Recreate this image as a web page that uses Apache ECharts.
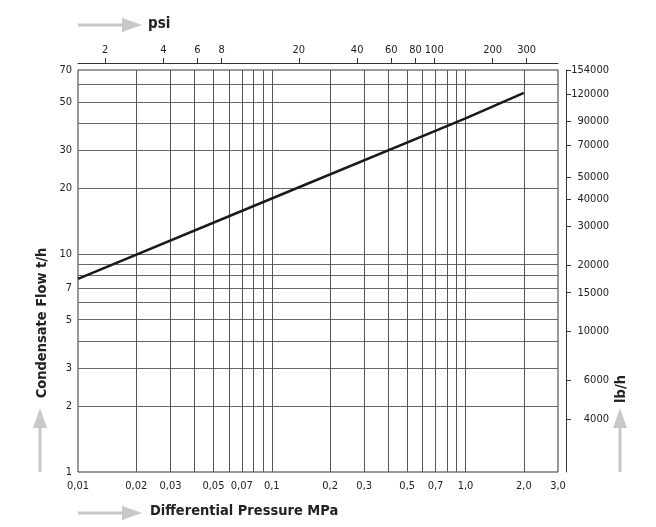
<!DOCTYPE html>
<html>
<head>
<meta charset="utf-8">
<script src="https://cdn.jsdelivr.net/npm/echarts@6/dist/echarts.min.js"></script>
<style>
  html, body { margin: 0; background: #fff; }
  #chart { width: 656px; height: 527px; }
</style>
</head>
<body>
<div id="chart"></div>
<script>
// flow curve: differential pressure (MPa) -> condensate flow (t/h)
const pressureMPa = [0.01, 0.1, 1.0, 2.0]
const flowTh = [7.7, 18, 42, 55]

// axis ticks / labels
const mpaLabels = [0.01, 0.02, 0.03, 0.05, 0.07, 0.1, 0.2, 0.3, 0.5, 0.7, 1.0, 2.0, 3.0]
const mpaGrid = [0.02, 0.03, 0.04, 0.05, 0.06, 0.07, 0.08, 0.09, 0.1, 0.2, 0.3, 0.4, 0.5, 0.6, 0.7, 0.8, 0.9, 1.0, 2.0]
const psiLabels = [2, 4, 6, 8, 20, 40, 60, 80, 100, 200, 300]
const thLabels = [1, 2, 3, 5, 7, 10, 20, 30, 50, 70]
const thGrid = [2, 3, 4, 5, 6, 7, 8, 9, 10, 20, 30, 40, 50, 60]
const lbLabels = [4000, 6000, 10000, 15000, 20000, 30000, 40000, 50000, 70000, 90000, 120000, 154000]

const PSI_PER_MPA = 145.038
const font = '"DejaVu Sans Condensed", "DejaVu Sans", sans-serif'
const txt = '#222'
const arrowGray = '#c8c8c8'

const chart = echarts.init(document.getElementById('chart'))

function hArrow(x, y) {
  return [
    { type: 'rect', shape: { x: x, y: y - 1.5, width: 46, height: 3 }, style: { fill: arrowGray } },
    { type: 'polygon', shape: { points: [[x + 44, y - 7], [x + 64, y], [x + 44, y + 7]] }, style: { fill: arrowGray } }
  ]
}
function vArrow(x, y) {
  // y = tip
  return [
    { type: 'rect', shape: { x: x - 1.5, y: y + 18, width: 3, height: 46 }, style: { fill: arrowGray } },
    { type: 'polygon', shape: { points: [[x - 7, y + 20], [x, y], [x + 7, y + 20]] }, style: { fill: arrowGray } }
  ]
}

chart.setOption({
  animation: false,
  grid: {
    left: 78, top: 70, right: 98, bottom: 55,
    show: true, borderColor: '#333', borderWidth: 1
  },
  xAxis: [{
    type: 'log',
    position: 'bottom',
    min: 0.01,
    max: 3,
    axisLine: { show: false },
    axisTick: { show: false, customValues: mpaGrid },
    splitLine: { show: true, lineStyle: { color: '#555', width: 1 } },
    axisLabel: {
      customValues: mpaLabels,
      margin: 9,
      color: txt,
      fontFamily: font,
      fontSize: 11,
      formatter: v => v.toFixed(v < 0.095 ? 2 : 1).replace('.', ',')
    }
  }, {
    type: 'log',
    position: 'top',
    offset: 7,
    min: 0.01 * PSI_PER_MPA,
    max: 3 * PSI_PER_MPA,
    axisLine: { show: true, lineStyle: { color: '#333', width: 1 } },
    axisTick: { show: true, customValues: psiLabels, length: 5, lineStyle: { color: '#333' } },
    splitLine: { show: false },
    axisLabel: {
      customValues: psiLabels,
      margin: 7,
      color: txt,
      fontFamily: font,
      fontSize: 11,
      formatter: v => String(Math.round(v))
    }
  }],
  yAxis: [{
    type: 'log',
    position: 'left',
    min: 1,
    max: 70,
    axisLine: { show: false },
    axisTick: { show: false, customValues: thGrid },
    splitLine: { show: true, lineStyle: { color: '#666', width: 1 } },
    axisLabel: {
      customValues: thLabels,
      margin: 6,
      color: txt,
      fontFamily: font,
      fontSize: 11,
      formatter: v => String(Math.round(v))
    }
  }, {
    type: 'log',
    position: 'right',
    offset: 8,
    min: 2300,
    max: 154000,
    axisLine: { show: true, lineStyle: { color: '#333', width: 1 } },
    axisTick: { show: true, customValues: lbLabels, length: 5, lineStyle: { color: '#333' } },
    splitLine: { show: false },
    axisLabel: {
      customValues: lbLabels,
      margin: 43,
      align: 'right',
      color: txt,
      fontFamily: font,
      fontSize: 11,
      formatter: v => String(Math.round(v))
    }
  }],
  series: [{
    type: 'line',
    xAxisIndex: 0,
    yAxisIndex: 0,
    data: pressureMPa.map((p, i) => [p, flowTh[i]]),
    symbol: 'none',
    smooth: false,
    lineStyle: { color: '#1a1a1a', width: 2.5 }
  }],
  graphic: [
    ...hArrow(78, 25),
    ...hArrow(78, 513),
    ...vArrow(40, 408),
    ...vArrow(620, 408),
    { type: 'text', left: 148, top: 17, style: { text: 'psi', font: 'bold 15px ' + font, fill: txt } },
    { type: 'text', left: 150, top: 504, style: { text: 'Differential Pressure MPa', font: 'bold 14.5px ' + font, fill: txt } },
    { type: 'text', x: 42, y: 323, rotation: Math.PI / 2, style: { text: 'Condensate Flow t/h', font: 'bold 14.5px ' + font, fill: txt, align: 'center', verticalAlign: 'middle' } },
    { type: 'text', x: 621, y: 389, rotation: Math.PI / 2, style: { text: 'lb/h', font: 'bold 14.5px ' + font, fill: txt, align: 'center', verticalAlign: 'middle' } }
  ]
})
</script>
</body>
</html>
